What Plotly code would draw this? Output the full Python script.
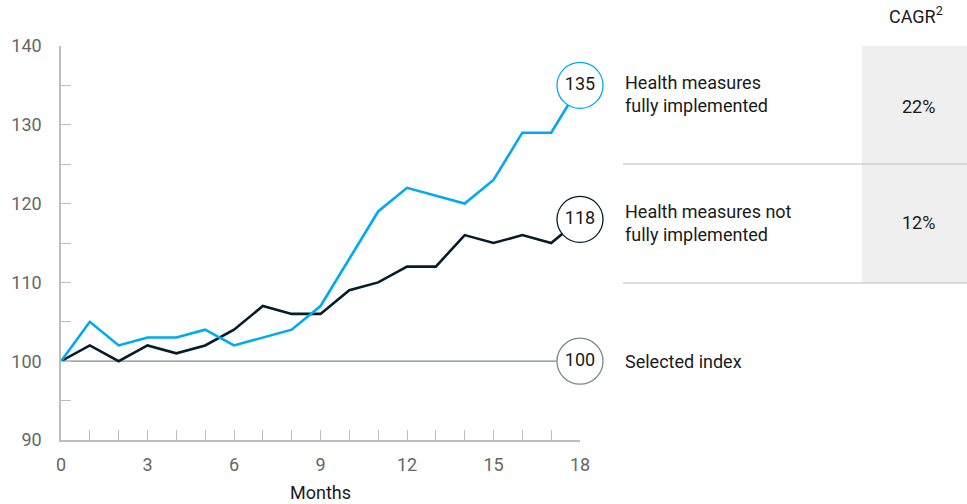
import plotly.graph_objects as go

# Monthly index values (start = 100)
months = list(range(0, 19))
fully_implemented = [100, 105, 102, 103, 103, 104, 102, 103, 104, 107,
                     113, 119, 122, 121, 120, 123, 129, 129, 135]
not_fully_implemented = [100, 102, 100, 102, 101, 102, 104, 107, 106, 106,
                         109, 110, 112, 112, 116, 115, 116, 115, 118]
selected_index = [100] * len(months)

series_names = ["Health measures<br>fully implemented",
                "Health measures not<br>fully implemented",
                "Selected index"]
cagr_labels = ["22%", "12%"]

BLUE = "#00A9F4"
NAVY = "#051C2C"
GREY = "#7F8790"
AXIS = "#BDBDBD"
FONT = "Roboto, Liberation Sans, Arial, sans-serif"

# plot area in pixels (for placing the side table in paper coords)
W, H = 967, 504
L, R, T, B = 61, 580, 46, 440


def px_x(p):
    return (p - L) / (R - L)


def px_y(p):
    return (B - p) / (B - T)


fig = go.Figure()

fig.add_trace(go.Scatter(x=months, y=selected_index, mode="lines",
                         line=dict(color=GREY, width=1.2), hoverinfo="skip"))
fig.add_trace(go.Scatter(x=months, y=not_fully_implemented, mode="lines",
                         line=dict(color=NAVY, width=2.6)))
fig.add_trace(go.Scatter(x=months, y=fully_implemented, mode="lines",
                         line=dict(color=BLUE, width=2.6)))

# end-point bubbles with the final value
ends = [(selected_index[-1], GREY), (not_fully_implemented[-1], NAVY),
        (fully_implemented[-1], BLUE)]
for val, col in ends:
    fig.add_trace(go.Scatter(
        x=[months[-1]], y=[val], mode="markers+text",
        text=[str(val)], textposition="middle center",
        textfont=dict(family=FONT, size=18, color="#1a1a1a"),
        marker=dict(size=46, color="white", line=dict(color=col, width=1.3)),
        cliponaxis=False, hoverinfo="skip"))

shapes = [
    # shaded CAGR column
    dict(type="rect", xref="paper", yref="paper",
         x0=px_x(862), x1=px_x(967), y0=px_y(283), y1=px_y(46),
         fillcolor="#EFEFEF", line=dict(width=0), layer="below"),
    dict(type="line", xref="paper", yref="paper",
         x0=px_x(623), x1=px_x(967), y0=px_y(164), y1=px_y(164),
         line=dict(color="#BDBDBD", width=1)),
    dict(type="line", xref="paper", yref="paper",
         x0=px_x(623), x1=px_x(967), y0=px_y(283), y1=px_y(283),
         line=dict(color="#BDBDBD", width=1)),
]

annotations = []
label_rows = [(94, 0), (223, 1), (361, 2)]
for y_px, i in label_rows:
    annotations.append(dict(
        xref="paper", yref="paper", x=px_x(623), y=px_y(y_px),
        xanchor="left", yanchor="middle", align="left",
        text=series_names[i], showarrow=False,
        font=dict(family=FONT, size=18, color="#1a1a1a")))
for y_px, txt in [(106, cagr_labels[0]), (222, cagr_labels[1])]:
    annotations.append(dict(xref="paper", yref="paper", x=px_x(918),
                            y=px_y(y_px), xanchor="center", yanchor="middle",
                            text=txt, showarrow=False,
                            font=dict(family=FONT, size=18, color="#1a1a1a")))
annotations.append(dict(xref="paper", yref="paper", x=px_x(916), y=px_y(15),
                        xanchor="center", yanchor="middle",
                        text="CAGR<sup>2</sup>", showarrow=False,
                        font=dict(family=FONT, size=18, color="#1a1a1a")))

fig.update_layout(
    width=W, height=H,
    margin=dict(l=L, r=W - R, t=T, b=H - B, pad=0, autoexpand=False),
    plot_bgcolor="white", paper_bgcolor="white",
    showlegend=False,
    font=dict(family=FONT, size=18, color="#666666"),
    shapes=shapes, annotations=annotations,
    xaxis=dict(range=[0, 18], tickmode="linear", tick0=0, dtick=3,
               automargin=False,
               showgrid=False, zeroline=False, showline=True,
               linecolor=AXIS, linewidth=1.5,
               ticks="inside", ticklen=10, tickcolor=AXIS, tickwidth=1.2,
               minor=dict(dtick=1, ticks="inside", ticklen=10,
                          tickcolor=AXIS, tickwidth=1.2, showgrid=False),
               tickfont=dict(family=FONT, size=18, color="#666666"),
               ticklabelstandoff=8,
               title=dict(text="Months", standoff=12,
                          font=dict(family=FONT, size=18, color="#1a1a1a"))),
    yaxis=dict(range=[90, 140], tickmode="linear", tick0=90, dtick=10,
               automargin=False,
               showgrid=False, zeroline=False, showline=True,
               linecolor=AXIS, linewidth=1.5,
               ticks="inside", ticklen=10, tickcolor=AXIS, tickwidth=1.2,
               minor=dict(dtick=5, ticks="inside", ticklen=10,
                          tickcolor=AXIS, tickwidth=1.2, showgrid=False),
               tickfont=dict(family=FONT, size=18, color="#666666"),
               ticklabelstandoff=14),
)

fig.write_html("out.html")
